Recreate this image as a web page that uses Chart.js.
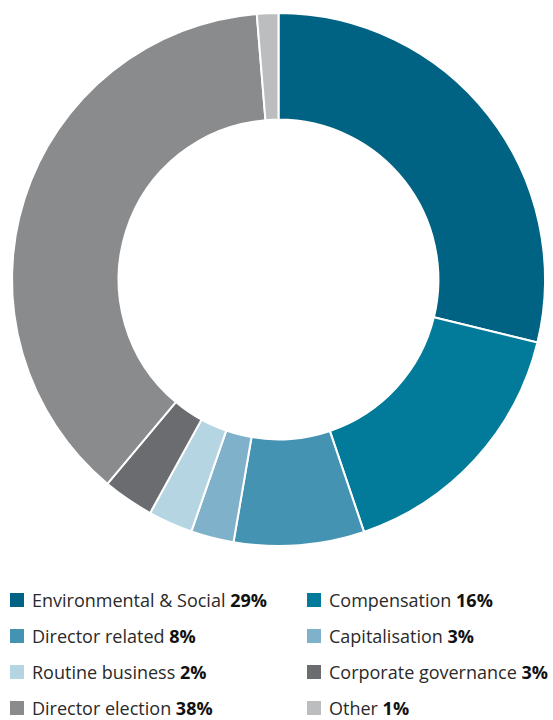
<!DOCTYPE html>
<html>
<head>
<meta charset="utf-8">
<script src="https://cdn.jsdelivr.net/npm/chart.js@4"></script>
<style>
  html, body { margin: 0; padding: 0; background: #fff; }
  body { width: 553px; height: 720px; position: relative; overflow: hidden; font-family: "Open Sans", "Noto Sans", sans-serif; }
  #wrap { position: absolute; left: 0; top: 0; width: 553px; height: 560px; }
  #legend { position: absolute; left: 0; top: 588px; width: 553px; }
  .item { position: absolute; height: 24px; font-size: 18px; line-height: 24px; color: #2a2a2a; white-space: nowrap; }
  .item .box { position: absolute; left: 0; top: 5px; width: 14px; height: 14px; }
  .item .txt { position: absolute; left: 22px; top: 0; }
  .item b { font-weight: 700; color: #111; }
</style>
</head>
<body>
<div id="wrap"><canvas id="c"></canvas></div>
<div id="legend"></div>
<script>
const categories = ['Environmental & Social', 'Compensation', 'Director related', 'Capitalisation',
  'Routine business', 'Corporate governance', 'Director election', 'Other']
// slice sizes
const shares = [28.8, 16.0, 7.9, 2.6, 2.7, 3.1, 37.6, 1.3]
// rounded figures printed in the legend
const legendPct = ['29%', '16%', '8%', '3%', '2%', '3%', '38%', '1%']
const colors = ['#006383', '#027a9a', '#4593b2', '#7fb1ca', '#b6d5e2', '#6b6c70', '#8a8b8d', '#bcbdbf']

new Chart(document.getElementById('c').getContext('2d'), {
  type: 'doughnut',
  data: {
    labels: categories,
    datasets: [{
      data: shares,
      backgroundColor: colors,
      borderColor: '#ffffff',
      borderWidth: 2,
    }],
  },
  options: {
    responsive: true,
    maintainAspectRatio: false,
    animation: false,
    cutout: '60%',
    layout: { padding: { left: 11, right: 7, top: 12, bottom: 13 } },
    plugins: {
      legend: { display: false },
      tooltip: { enabled: false },
    },
  },
})

// two-column legend under the ring
const legend = document.getElementById('legend')
categories.forEach((name, i) => {
  const col = i % 2
  const row = Math.floor(i / 2)
  const el = document.createElement('div')
  el.className = 'item'
  el.style.left = (col ? 307 : 10) + 'px'
  el.style.top = (row * 36) + 'px'
  el.innerHTML = '<span class="box" style="background:' + colors[i] + '"></span>' +
    '<span class="txt">' + name + ' <b>' + legendPct[i] + '</b></span>'
  legend.appendChild(el)
})
</script>
</body>
</html>
